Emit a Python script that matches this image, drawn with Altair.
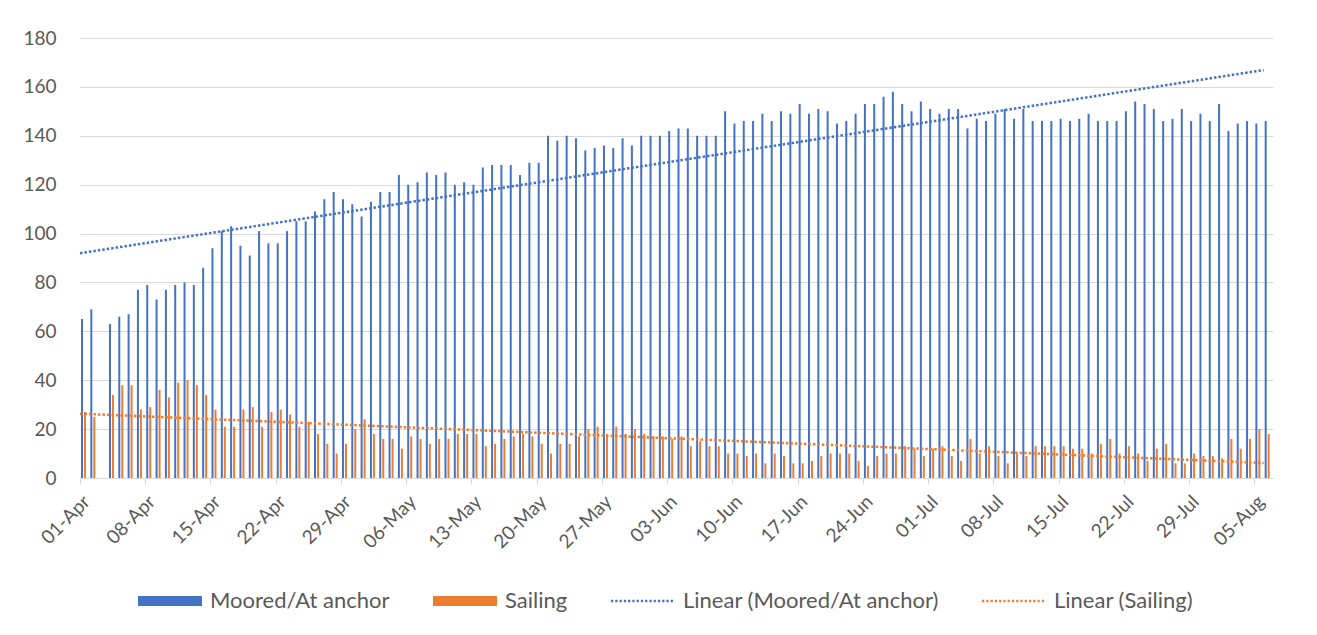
import altair as alt
import pandas as pd

start = "2020-04-01"

# Daily vessel counts (None = day with no data)
moored = [
    65, 69, None, 63, 66, 67, 77, 79, 73, 77,
    79, 80, 79, 86, 94, 101, 103, 95, 91, 101,
    96, 96, 101, 105, 105, 109, 114, 117, 114, 112,
    107, 113, 117, 117, 124, 120, 121, 125, 124, 125,
    120, 121, 120, 127, 128, 128, 128, 124, 129, 129,
    140, 138, 140, 139, 134, 135, 136, 135, 139, 136,
    140, 140, 140, 142, 143, 143, 140, 140, 140, 150,
    145, 146, 146, 149, 146, 150, 149, 153, 149, 151,
    150, 145, 146, 149, 153, 153, 156, 158, 153, 150,
    154, 151, 149, 151, 151, 143, 147, 146, 149, 151,
    147, 151, 146, 146, 146, 147, 146, 147, 149, 146,
    146, 146, 150, 154, 153, 151, 146, 147, 151, 146,
    149, 146, 153, 142, 145, 146, 145, 146,
]
sailing = [
    27, 25, None, 34, 38, 38, 28, 29, 36, 33,
    39, 40, 38, 34, 28, 21, 21, 28, 29, 21,
    27, 28, 26, 21, 23, 18, 14, 10, 14, 20,
    24, 18, 16, 16, 12, 17, 16, 14, 16, 16,
    18, 18, 18, 13, 14, 16, 17, 18, 17, 14,
    10, 14, 14, 17, 20, 21, 18, 21, 18, 20,
    18, 17, 17, 16, 17, 13, 15, 13, 13, 10,
    10, 9, 10, 6, 10, 9, 6, 6, 7, 9,
    10, 10, 10, 7, 5, 9, 10, 10, 13, 12,
    9, 12, 13, 9, 7, 16, 10, 13, 9, 6,
    10, 9, 13, 13, 13, 13, 12, 12, 10, 14,
    16, 10, 13, 10, 7, 12, 14, 6, 6, 10,
    9, 9, 8, 16, 12, 16, 20, 18,
]

series_names = ["Moored/At anchor", "Sailing", "Linear (Moored/At anchor)", "Linear (Sailing)"]
series_colors = ["#4472C4", "#ED7D31", "#4472C4", "#ED7D31"]
tick_days = list(range(0, 127, 7))
y_ticks = list(range(0, 181, 20))

BLUE, ORANGE = "#4472C4", "#ED7D31"
TEXT = "#595959"
GRID = "#D9D9D9"
FONT = "Lato"

dates = pd.date_range(start, periods=len(moored), freq="D")
df = pd.DataFrame({"date": dates.strftime("%Y-%m-%d"), "moored": moored, "sailing": sailing})
df["day"] = (dates - pd.Timestamp(start)).days
df = df.dropna().reset_index(drop=True)

# legend symbols: filled bar and dotted line
rect_path = "M-1,-0.16H1V0.16H-1Z"
dots = "".join(f"M{-1 + i * 0.1333:.4f},-0.04h0.07v0.08h-0.07z" for i in range(15))
shape_paths = [rect_path, rect_path, dots, dots]

xscale = alt.Scale(domain=[0, 128], nice=False, zero=False, padding=0)
yscale = alt.Scale(domain=[0, 180], nice=False)

x_axis = alt.Axis(
    values=tick_days,
    labelExpr="timeFormat(datetime(2020, 3, 1 + datum.value), '%d-%b')",
    labelAngle=-45,
    labelFont=FONT, labelFontSize=19, labelColor=TEXT, labelPadding=8,
    grid=False, domainColor=GRID, tickColor=GRID, tickSize=6, ticks=True,
    labelOverlap=False,
)
y_axis = alt.Axis(
    values=y_ticks, labelFont=FONT, labelFontSize=19, labelColor=TEXT,
    labelPadding=24, ticks=False, tickSize=0, domain=False,
    grid=True, gridColor=GRID, gridWidth=1,
)

base = alt.Chart(df)

bars_m = base.mark_bar(color=BLUE, width=2, xOffset=2).encode(
    x=alt.X("day:Q", scale=xscale, axis=x_axis, title=None),
    y=alt.Y("moored:Q", scale=yscale, axis=y_axis, title=None),
)
bars_s = base.mark_bar(color=ORANGE, width=2, xOffset=5).encode(
    x=alt.X("day:Q", scale=xscale, title=None),
    y=alt.Y("sailing:Q", scale=yscale, title=None),
)
trend_m = base.transform_regression("day", "moored", extent=[0, 127]).mark_line(
    color=BLUE, strokeDash=[2.5, 2], strokeWidth=2.5
).encode(
    x=alt.X("day:Q", scale=xscale, title=None),
    y=alt.Y("moored:Q", scale=yscale, title=None),
)
trend_s = base.transform_regression("day", "sailing", extent=[0, 127]).mark_line(
    color=ORANGE, strokeDash=[2.5, 2], strokeWidth=2.5
).encode(
    x=alt.X("day:Q", scale=xscale, title=None),
    y=alt.Y("sailing:Q", scale=yscale, title=None),
)

legend_def = alt.Legend(
    orient="none", legendX=58, legendY=531, direction="horizontal", title=None,
    labelFont=FONT, labelFontSize=22, labelColor=TEXT, labelOffset=8, labelLimit=500,
    symbolSize=4096, symbolStrokeWidth=0, symbolOpacity=1, columnPadding=43,
)
leg_df = pd.DataFrame({"series": series_names})
legend_layer = alt.Chart(leg_df).mark_point(filled=True, opacity=0).encode(
    x=alt.value(0),
    y=alt.value(0),
    color=alt.Color("series:N", scale=alt.Scale(domain=series_names, range=series_colors), legend=legend_def),
    shape=alt.Shape("series:N", scale=alt.Scale(domain=series_names, range=shape_paths), legend=legend_def),
)

chart = alt.layer(bars_m, bars_s, trend_m, trend_s, legend_layer).properties(
    width=1193,
    height=440,
    autosize=alt.AutoSizeParams(type="none"),
    padding={"left": 72, "top": 30, "right": 28, "bottom": 150},
    background="white",
).configure_view(strokeWidth=0)

chart.save("out.html", embed_options={"renderer": "svg", "actions": False})
